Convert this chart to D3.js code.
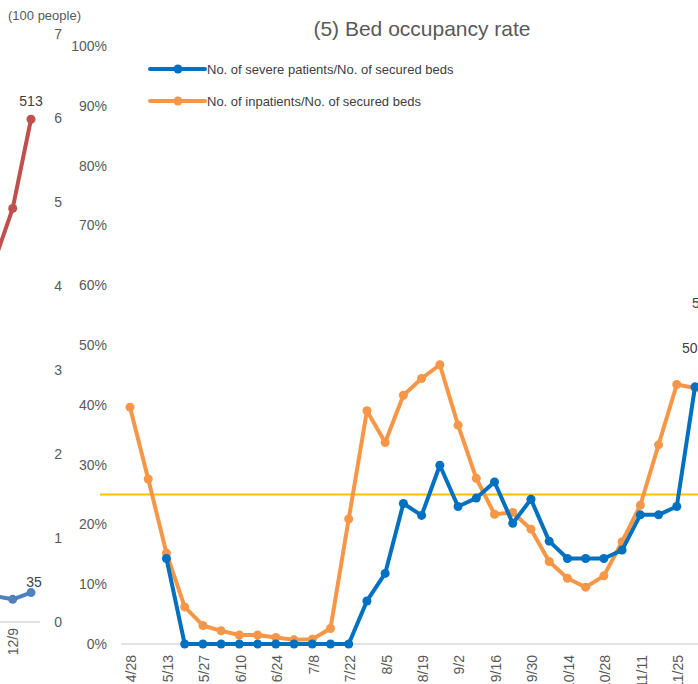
<!DOCTYPE html>
<html>
<head>
<meta charset="utf-8">
<script src="https://d3js.org/d3.v7.min.js"></script>
<style>
  body { margin: 0; background: #fff; }
  svg { display: block; }
</style>
</head>
<body>
<script>
// *** right chart: weekly bed occupancy (percent)
var weeks = ["4/28","5/6","5/13","5/20","5/27","6/3","6/10","6/17","6/24","7/1","7/8","7/15",
             "7/22","7/29","8/5","8/12","8/19","8/26","9/2","9/9","9/16","9/23","9/30","10/7",
             "10/14","10/21","10/28","11/4","11/11","11/18","11/25","12/2"];
var severeRate = [null,null,14.3,0,0,0,0,0,0,0,0,0,
                  0,7.2,11.8,23.5,21.5,29.9,23.0,24.4,27.1,20.2,24.2,17.2,
                  14.3,14.3,14.3,15.7,21.6,21.6,23.0,43.0];
var inpatientRate = [39.6,27.6,15.2,6.2,3.1,2.2,1.5,1.5,1.1,0.7,0.8,2.6,
                     20.9,39.0,33.7,41.6,44.4,46.7,36.6,27.7,21.7,22.0,19.2,13.8,
                     11.0,9.5,11.4,17.1,23.2,33.3,43.4,42.8];
var threshold = 25;
var pctTicks = [0,10,20,30,40,50,60,70,80,90,100];
var legendNames = ["No. of severe patients/No. of secured beds", "No. of inpatients/No. of secured beds"];

// *** left chart (cut off): only the last few points show
var leftWeeks = ["12/2","12/9","12/16"];
var leftRed = [368, 422, 513];        // people
var leftBlue = [0.31, 0.27, 0.35];    // 100 people
var leftTicks = [0,1,2,3,4,5,6,7];

var W = 698, H = 684;
var colorset = ["#0070C0", "#F79646", "#C0504D", "#4F81BD"];
var font = "'Liberation Sans', Arial, sans-serif";

var svg = d3.select("body").append("svg")
    .attr("width", W)
    .attr("height", H)
    .style("font-family", font);

// ---------- left chart ----------
var xL = d3.scalePoint().domain(leftWeeks).range([-5.6, 31]);
var yL = d3.scaleLinear().domain([0, 7]).range([622, 34]);
var yRed = d3.scaleLinear().domain([0, 600]).range([622, 34]);

svg.append("line")
    .attr("x1", 0).attr("x2", 40)
    .attr("y1", yL(0)).attr("y2", yL(0))
    .attr("stroke", "#D9D9D9").attr("stroke-width", 1.5);

var yAxisL = svg.append("g")
    .attr("transform", "translate(65,0)")
    .call(d3.axisLeft(yL).tickValues(leftTicks).tickSize(0).tickPadding(3).tickFormat(d3.format("d")));
yAxisL.select(".domain").remove();

svg.append("text")
    .attr("x", 8).attr("y", 20)
    .attr("font-size", 13).attr("fill", "#595959")
    .text("(100 people)");

var lineRed = d3.line()
    .x(function(d, i){ return xL(leftWeeks[i]); })
    .y(function(d){ return yRed(d); });
var lineBlueL = d3.line()
    .x(function(d, i){ return xL(leftWeeks[i]); })
    .y(function(d){ return yL(d); });

svg.append("path").attr("d", lineRed(leftRed))
    .attr("fill", "none").attr("stroke", colorset[2]).attr("stroke-width", 4).attr("stroke-linejoin", "round");
svg.append("path").attr("d", lineBlueL(leftBlue))
    .attr("fill", "none").attr("stroke", colorset[3]).attr("stroke-width", 4).attr("stroke-linejoin", "round");

svg.append("g").selectAll("circle").data(leftRed).enter().append("circle")
    .attr("cx", function(d, i){ return xL(leftWeeks[i]); })
    .attr("cy", function(d){ return yRed(d); })
    .attr("r", 4.5).attr("fill", colorset[2]);
svg.append("g").selectAll("circle").data(leftBlue).enter().append("circle")
    .attr("cx", function(d, i){ return xL(leftWeeks[i]); })
    .attr("cy", function(d){ return yL(d); })
    .attr("r", 4.5).attr("fill", colorset[3]);

svg.append("text")
    .attr("x", xL("12/16")).attr("y", yRed(513) - 13)
    .attr("text-anchor", "middle").attr("font-size", 14).attr("fill", "#404040")
    .text("513");
svg.append("text")
    .attr("x", xL("12/16") + 3).attr("y", yL(0.35) - 6)
    .attr("text-anchor", "middle").attr("font-size", 14).attr("fill", "#404040")
    .text("35");

svg.append("text")
    .attr("transform", "translate(" + (xL("12/9") + 5) + ",628) rotate(-90)")
    .attr("text-anchor", "end").attr("font-size", 14).attr("fill", "#595959")
    .text("12/9");

// ---------- right chart ----------
var xScale = d3.scalePoint().domain(weeks).range([130, 695]);
var yScale = d3.scaleLinear().domain([0, 100]).range([644, 46]);

svg.append("line")
    .attr("x1", 121).attr("x2", W)
    .attr("y1", yScale(0)).attr("y2", yScale(0))
    .attr("stroke", "#D9D9D9").attr("stroke-width", 1.5);

var yAxis = svg.append("g")
    .attr("transform", "translate(110,0)")
    .call(d3.axisLeft(yScale).tickValues(pctTicks).tickSize(0).tickPadding(3)
        .tickFormat(function(d){ return d + "%"; }));
yAxis.select(".domain").remove();

var xTickVals = weeks.filter(function(d, i){ return i % 2 === 0; });
var xAxis = svg.append("g")
    .attr("transform", "translate(0," + yScale(0) + ")")
    .call(d3.axisBottom(xScale).tickValues(xTickVals).tickSize(0));
xAxis.select(".domain").remove();
xAxis.selectAll("text")
    .attr("transform", "rotate(-90)")
    .attr("text-anchor", "end")
    .attr("x", -11).attr("y", 1).attr("dy", "0.35em");

[yAxisL, yAxis, xAxis].forEach(function(g){
    g.selectAll("text").attr("font-size", 14).attr("fill", "#595959").attr("font-family", font);
});

// 25% line
svg.append("line")
    .attr("x1", 100).attr("x2", W)
    .attr("y1", yScale(threshold)).attr("y2", yScale(threshold))
    .attr("stroke", "#FFC000").attr("stroke-width", 2);

var lineSevere = d3.line()
    .defined(function(d){ return d !== null; })
    .x(function(d, i){ return xScale(weeks[i]); })
    .y(function(d){ return yScale(d); });

var series = [inpatientRate, severeRate];
var seriesColor = [colorset[1], colorset[0]];
series.forEach(function(s, k){
    svg.append("path").attr("d", lineSevere(s))
        .attr("fill", "none").attr("stroke", seriesColor[k])
        .attr("stroke-width", 4).attr("stroke-linejoin", "round");
    svg.append("g").selectAll("circle")
        .data(s.map(function(v, i){ return {w: weeks[i], v: v}; }).filter(function(d){ return d.v !== null; }))
        .enter().append("circle")
        .attr("cx", function(d){ return xScale(d.w); })
        .attr("cy", function(d){ return yScale(d.v); })
        .attr("r", 4.5).attr("fill", seriesColor[k]);
});

// labels cut off at right edge
svg.append("text").attr("x", 692).attr("y", 308)
    .attr("font-size", 14).attr("fill", "#404040").text("57.1%");
svg.append("text").attr("x", 682).attr("y", 353)
    .attr("font-size", 14).attr("fill", "#404040").text("50.0%");

// title
svg.append("text")
    .attr("x", 422).attr("y", 36)
    .attr("text-anchor", "middle").attr("font-size", 21).attr("fill", "#595959")
    .text("(5) Bed occupancy rate");

// legend
var legendY = [69, 101];
var legendColor = [colorset[0], colorset[1]];
legendNames.forEach(function(name, i){
    var g = svg.append("g");
    g.append("line").attr("x1", 150).attr("x2", 205)
        .attr("y1", legendY[i]).attr("y2", legendY[i])
        .attr("stroke", legendColor[i]).attr("stroke-width", 4).attr("stroke-linecap", "round");
    g.append("circle").attr("cx", 178).attr("cy", legendY[i]).attr("r", 4.5).attr("fill", legendColor[i]);
    g.append("text").attr("x", 207).attr("y", legendY[i] + 4.5)
        .attr("font-size", 13).attr("fill", "#404040").text(name);
});
</script>
</body>
</html>
